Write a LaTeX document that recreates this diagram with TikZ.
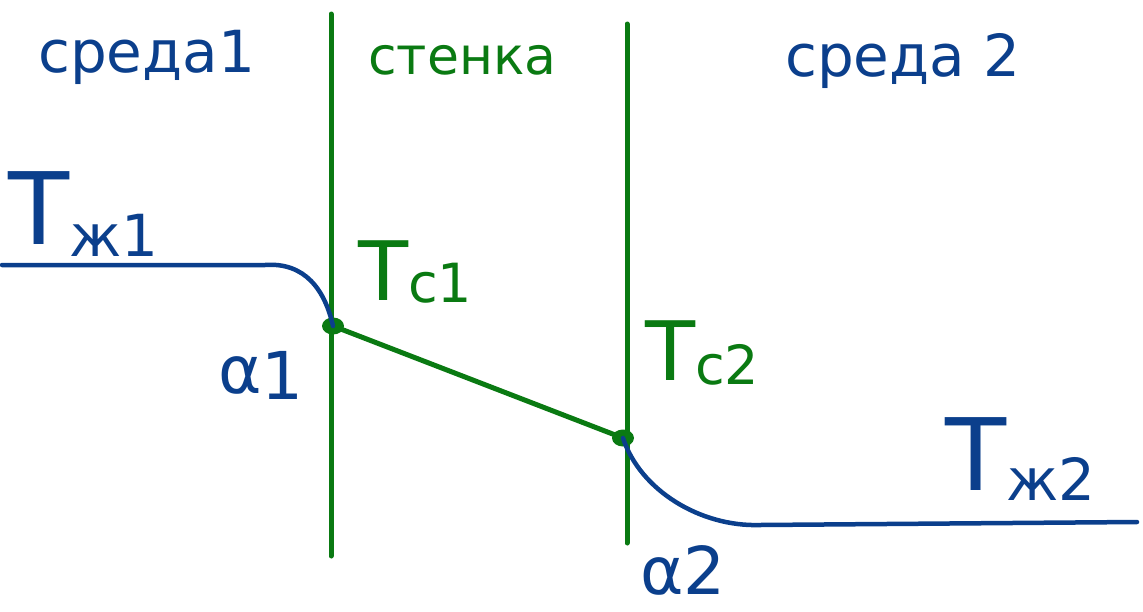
\documentclass[tikz,border=0pt]{standalone}
\usepackage{fontspec}
\setmainfont{DejaVu Sans}
\definecolor{hblue}{HTML}{0B3F8C}
\definecolor{hgreen}{HTML}{0A7A12}
\begin{document}
\begin{tikzpicture}[x=1pt,y=-1pt,
  wall/.style={hgreen,line width=5pt,line cap=round},
  blueline/.style={hblue,line width=4.5pt,line cap=round},
  bluetxt/.style={hblue,inner sep=0pt,anchor=base west},
  greentxt/.style={hgreen,inner sep=0pt,anchor=base west},
  dot/.style={ellipse,fill=hgreen,inner sep=0pt,minimum width=22pt,minimum height=17pt}]
\usetikzlibrary{shapes.geometric}
\useasboundingbox (0,0) rectangle (1143,611);
% walls
\coordinate (w1t) at (331,14);
\coordinate (w1b) at (331,556);
\coordinate (w2t) at (627,24);
\coordinate (w2b) at (627,543);
\draw[wall] (w1t) -- (w1b);
\draw[wall] (w2t) -- (w2b);
% surface points
\node[dot] (c1) at (333,326) {};
\node[dot] (c2) at (623,438) {};
\draw[wall] (c1.center) -- (c2.center);
% fluid profiles
\coordinate (l0) at (2,265);
\coordinate (l1) at (265,265);
\coordinate (r1) at (760,525);
\coordinate (r0) at (1137,522);
\draw[blueline] (l0) -- (l1) .. controls (305,262) and (325,290) .. (c1.center);
\draw[blueline] (c2.center) .. controls (640,490) and (700,527) .. (r1) -- (r0);
% labels
\node[bluetxt,font=\fontsize{58}{60}\selectfont] (s1) at (38,72) {среда1};
\node[greentxt,font=\fontsize{52}{54}\selectfont] (st) at (368,74) {стенка};
\node[bluetxt,font=\fontsize{58}{60}\selectfont] (s2) at (785,76) {среда 2};
\node[bluetxt,font=\fontsize{100}{100}\selectfont] (tz1) at (8,244) {T\raisebox{-12pt}{\fontsize{58}{60}\selectfont ж1}};
\node[greentxt,font=\fontsize{82}{84}\selectfont] (tc1) at (358,300) {T\raisebox{-2pt}{\fontsize{54}{56}\selectfont с1}};
\node[greentxt,font=\fontsize{82}{84}\selectfont] (tc2) at (645,380) {T\raisebox{-4pt}{\fontsize{54}{56}\selectfont с2}};
\node[bluetxt,font=\fontsize{100}{100}\selectfont] (tz2) at (945,490) {T\raisebox{-10pt}{\fontsize{58}{60}\selectfont ж2}};
\node[bluetxt,font=\fontsize{66}{68}\selectfont] (a1) at (218,393) {α\raisebox{-6pt}{1}};
\node[bluetxt,font=\fontsize{66}{68}\selectfont] (a2) at (640,594) {α2};
\end{tikzpicture}
\end{document}
